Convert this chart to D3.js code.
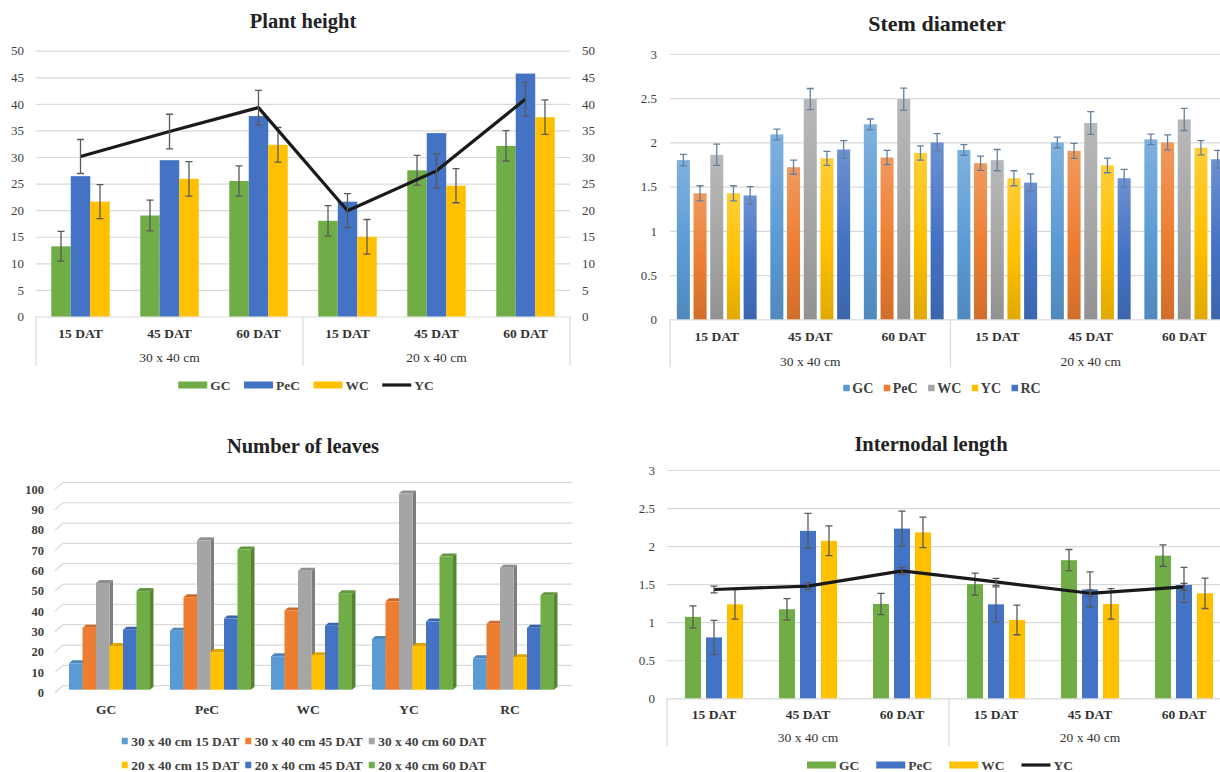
<!DOCTYPE html>
<html><head><meta charset="utf-8">
<script src="https://cdn.jsdelivr.net/npm/d3@7"></script>
<style>body{margin:0;background:#fff}svg{display:block}</style>
</head><body>
<svg id="c" width="1220" height="772"></svg>
<script>
// ---------- DATA ----------
const datLabels = ["15 DAT","45 DAT","60 DAT","15 DAT","45 DAT","60 DAT"];
const spacingLabels = ["30 x 40 cm","20 x 40 cm"];

// Plant height
const plantGC = [13.2, 19.0, 25.5, 18.0, 27.5, 32.1];
const plantGCErr = [2.8, 2.9, 2.85, 2.85, 2.8, 2.85];
const plantPeC = [26.4, 29.4, 37.7, 21.6, 34.5, 45.7];
const plantWC = [21.6, 25.9, 32.3, 15.0, 24.6, 37.5];
const plantWCErr = [3.2, 3.25, 3.25, 3.25, 3.2, 3.25];
const plantYC = [30.1, 34.8, 39.3, 19.9, 27.4, 40.9];
const plantYCErr = [3.2, 3.25, 3.25, 3.2, 3.2, 3.15];
const plantTicks = [0,5,10,15,20,25,30,35,40,45,50];

// Stem diameter
const stemGC = [1.80, 2.09, 2.205, 1.915, 2.00, 2.035];
const stemGCErr = [0.065, 0.06, 0.06, 0.06, 0.06, 0.06];
const stemPeC = [1.425, 1.72, 1.83, 1.765, 1.905, 2.00];
const stemPeCErr = [0.085, 0.08, 0.08, 0.08, 0.085, 0.085];
const stemWC = [1.86, 2.49, 2.49, 1.80, 2.22, 2.26];
const stemWCErr = [0.12, 0.12, 0.125, 0.12, 0.128, 0.125];
const stemYC = [1.425, 1.82, 1.88, 1.595, 1.74, 1.94];
const stemYCErr = [0.085, 0.08, 0.08, 0.085, 0.083, 0.08];
const stemRC = [1.40, 1.92, 2.00, 1.545, 1.595, 1.81];
const stemRCErr = [0.1, 0.1, 0.1, 0.1, 0.1, 0.1];
const unitTicks = [0,0.5,1,1.5,2,2.5,3];

// Number of leaves
const leafCats = ["GC","PeC","WC","YC","RC"];
const leafNames = ["30 x 40 cm 15 DAT","30 x 40 cm 45 DAT","30 x 40 cm 60 DAT","20 x 40 cm 15 DAT","20 x 40 cm 45 DAT","20 x 40 cm 60 DAT"];
const leaf3015 = [12.5, 28.5, 16, 24.5, 15];
const leaf3045 = [30, 45, 38.5, 43, 32];
const leaf3060 = [52, 73, 58, 96, 59.5];
const leaf2015 = [21, 18, 16.5, 21, 15.5];
const leaf2045 = [29, 34.5, 31, 33, 30];
const leaf2060 = [48, 68.5, 47, 65, 46];
const leafTicks = [0,10,20,30,40,50,60,70,80,90,100];

// Internodal length
const intGC = [1.07, 1.17, 1.24, 1.50, 1.815, 1.875];
const intGCErr = [0.145, 0.14, 0.14, 0.145, 0.14, 0.14];
const intPeC = [0.80, 2.20, 2.23, 1.235, 1.43, 1.49];
const intPeCErr = [0.225, 0.23, 0.23, 0.23, 0.23, 0.23];
const intWC = [1.235, 2.07, 2.18, 1.03, 1.24, 1.38];
const intWCErr = [0.195, 0.195, 0.2, 0.195, 0.2, 0.2];
const intYC = [1.43, 1.475, 1.675, 1.53, 1.38, 1.465];
const intYCErr = [0.045, 0.045, 0.045, 0.045, 0.045, 0.045];

// ---------- STYLE ----------
const FONT = "'Liberation Serif','Times New Roman',serif";
const GRID = "#d9d9d9";
const TXT = "#404040";
const C = {green:"#70AD47", blue:"#4472C4", gold:"#FFC000", lblue:"#5B9BD5", orange:"#ED7D31", gray:"#A5A5A5"};

const svg = d3.select("#c");
svg.append("rect").attr("width",1220).attr("height",772).attr("fill","#fff");
const defs = svg.append("defs");

function gradient(id, base){
  const c = d3.color(base);
  const gr = defs.append("linearGradient").attr("id",id).attr("x1",0).attr("y1",0).attr("x2",0).attr("y2",1);
  gr.append("stop").attr("offset","0%").attr("stop-color", d3.interpolateRgb(base,"#fff")(0.22));
  gr.append("stop").attr("offset","55%").attr("stop-color", base);
  gr.append("stop").attr("offset","100%").attr("stop-color", c.darker(0.35).formatHex());
  return `url(#${id})`;
}

function title(text, cx, cy, fs){
  svg.append("text").attr("x",cx).attr("y",cy).attr("dy","0.35em").attr("text-anchor","middle")
    .attr("font-family",FONT).attr("font-weight","bold").attr("font-size",fs).attr("fill","#222").text(text);
}

function errBars(g, xs, vals, errs, y, color, cap){
  const d = vals.map((v,i)=>({x:xs[i], lo:v-errs[i], hi:v+errs[i]}));
  const eg = g.append("g").attr("stroke",color).attr("stroke-width",1.3).attr("fill","none");
  eg.selectAll(null).data(d).join("path")
    .attr("d", e=>`M${e.x},${y(e.hi)}V${y(e.lo)}M${e.x-cap/2},${y(e.hi)}H${e.x+cap/2}M${e.x-cap/2},${y(e.lo)}H${e.x+cap/2}`);
}

function barPanel(o){
  const g = svg.append("g");
  const y = d3.scaleLinear().domain([0,o.yMax]).range([o.y0,o.yTop]);
  const x0 = d3.scaleBand().domain(d3.range(datLabels.length)).range([o.xL,o.xR]).paddingInner(o.pi).paddingOuter(o.pi/2);
  const x1 = d3.scaleBand().domain(o.bars.map(b=>b.name)).range([0,x0.bandwidth()]).paddingInner(o.p1);
  const ga = g.append("g").attr("transform",`translate(${o.xL},0)`)
    .call(d3.axisLeft(y).tickValues(o.ticks).tickSize(-(o.xR-o.xL)).tickPadding(o.tickPad).tickFormat(o.fmt));
  ga.select(".domain").remove();
  ga.selectAll(".tick line").attr("stroke",GRID).attr("stroke-width",1.2);
  ga.selectAll(".tick text").attr("font-family",FONT).attr("font-size",13).attr("fill",TXT);
  if(o.rightAxis){
    const gr = g.append("g").attr("transform",`translate(${o.xR},0)`)
      .call(d3.axisRight(y).tickValues(o.ticks).tickSize(0).tickPadding(12).tickFormat(o.fmt));
    gr.select(".domain").remove();
    gr.selectAll(".tick text").attr("font-family",FONT).attr("font-size",13).attr("fill",TXT);
  }
  const mid = (o.xL+o.xR)/2;
  g.selectAll(null).data([o.xL, mid, o.xR]).join("line")
    .attr("x1",d=>d).attr("x2",d=>d).attr("y1",o.y0).attr("y2",o.y0+o.catLine).attr("stroke",GRID).attr("stroke-width",1.2);
  g.selectAll(null).data(datLabels).join("text")
    .attr("x",(d,i)=>x0(i)+x0.bandwidth()/2).attr("y",o.y0+o.datOff).attr("dy","0.35em").attr("text-anchor","middle")
    .attr("font-family",FONT).attr("font-weight","bold").attr("font-size",13.5).attr("fill","#333").text(d=>d);
  g.selectAll(null).data(spacingLabels).join("text")
    .attr("x",(d,i)=> i===0 ? (o.xL+mid)/2 : (mid+o.xR)/2).attr("y",o.y0+o.grpOff).attr("dy","0.35em").attr("text-anchor","middle")
    .attr("font-family",FONT).attr("font-size",13.5).attr("fill","#333").text(d=>d);
  const centers = d3.range(datLabels.length).map(i=>x0(i)+x0.bandwidth()/2);
  o.bars.forEach(b=>{
    g.append("g").selectAll("rect").data(b.values).join("rect")
      .attr("x",(d,i)=>x0(i)+x1(b.name)).attr("width",x1.bandwidth())
      .attr("y",d=>y(d)).attr("height",d=>y(0)-y(d)).attr("fill",b.fill);
  });
  o.bars.forEach(b=>{
    if(b.err) errBars(g, b.values.map((d,i)=>x0(i)+x1(b.name)+x1.bandwidth()/2), b.values, b.err, y, o.errColor, o.cap);
  });
  if(o.line){
    g.append("path").datum(o.line.values).attr("fill","none").attr("stroke","#1a1a1a").attr("stroke-width",3.2)
      .attr("stroke-linejoin","round")
      .attr("d", d3.line().x((d,i)=>centers[i]).y(d=>y(d)));
    errBars(g, centers, o.line.values, o.line.err, y, o.errColor, o.cap);
  }
}

function legend(rows, o){
  const g = svg.append("g").attr("font-family",FONT).attr("font-size",o.fs).attr("font-weight","bold");
  let maxW = 0;
  rows.forEach((items, r)=>{
    let x = 0; const yy = o.y + r*(o.rowGap||0);
    items.forEach(it=>{
      if(it.type==="line") g.append("line").attr("x1",x).attr("x2",x+o.sw).attr("y1",yy).attr("y2",yy).attr("stroke",it.color).attr("stroke-width",3.2);
      else g.append("rect").attr("x",x).attr("y",yy-o.sh/2).attr("width",o.sw).attr("height",o.sh).attr("fill",it.color);
      x += o.sw + o.gap;
      const t = g.append("text").attr("x",x).attr("y",yy).attr("dy","0.35em").attr("fill",TXT).text(it.label);
      x += t.node().getComputedTextLength() + o.itemGap;
    });
    maxW = Math.max(maxW, x - o.itemGap);
  });
  g.attr("transform",`translate(${o.cx - maxW/2},0)`);
}

// ---------- PLANT HEIGHT ----------
title("Plant height", 303, 21, 20.5);
barPanel({
  xL:36, xR:570, y0:316.5, yTop:50.7, yMax:50, ticks:plantTicks, fmt:d3.format("d"), tickPad:12, rightAxis:true,
  pi:0.343, p1:0, catLine:49, datOff:16.5, grpOff:41, errColor:"#595959", cap:7,
  bars:[
    {name:"GC", values:plantGC, err:plantGCErr, fill:C.green},
    {name:"PeC", values:plantPeC, fill:C.blue},
    {name:"WC", values:plantWC, err:plantWCErr, fill:C.gold}
  ],
  line:{values:plantYC, err:plantYCErr}
});
legend([[{label:"GC",color:C.green},{label:"PeC",color:C.blue},{label:"WC",color:C.gold},{label:"YC",color:"#1a1a1a",type:"line"}]],
  {cx:306, y:385, fs:13.5, sw:29, sh:7, gap:3, itemGap:13.5});

// ---------- STEM DIAMETER ----------
title("Stem diameter", 937, 23, 22);
barPanel({
  xL:670, xR:1231, y0:319.3, yTop:54, yMax:3, ticks:unitTicks, fmt:d=>String(d), tickPad:13,
  pi:0.1465, p1:0.22, catLine:48, datOff:16.7, grpOff:41.5, errColor:"#64809f", cap:7,
  bars:[
    {name:"GC", values:stemGC, err:stemGCErr, fill:gradient("gGC",C.lblue)},
    {name:"PeC", values:stemPeC, err:stemPeCErr, fill:gradient("gPeC",C.orange)},
    {name:"WC", values:stemWC, err:stemWCErr, fill:gradient("gWC",C.gray)},
    {name:"YC", values:stemYC, err:stemYCErr, fill:gradient("gYC",C.gold)},
    {name:"RC", values:stemRC, err:stemRCErr, fill:gradient("gRC",C.blue)}
  ]
});
legend([[{label:"GC",color:C.lblue},{label:"PeC",color:C.orange},{label:"WC",color:C.gray},{label:"YC",color:C.gold},{label:"RC",color:C.blue}]],
  {cx:942, y:388, fs:14, sw:6.5, sh:6.5, gap:2.5, itemGap:10.5});

// ---------- NUMBER OF LEAVES (3D) ----------
title("Number of leaves", 303, 446, 20.5);
(function(){
  const g = svg.append("g");
  const y = d3.scaleLinear().domain([0,100]).range([692.7,489.4]);
  const WX = 8, WY = 7, xF = 55, xEnd = 572;
  g.selectAll(null).data(leafTicks).join("path")
    .attr("d", v=>`M${xF},${y(v)}L${xF+WX},${y(v)-WY}H${xEnd}`)
    .attr("fill","none").attr("stroke",GRID).attr("stroke-width",1.2);
  g.selectAll(null).data(leafTicks).join("text")
    .attr("x",44).attr("y",v=>y(v)).attr("dy","0.35em").attr("text-anchor","end")
    .attr("font-family",FONT).attr("font-weight","bold").attr("font-size",12.5).attr("fill",TXT).text(v=>v);
  const xc = d3.scaleBand().domain(leafCats).range([55.5,560.5]);
  const xs = d3.scaleBand().domain(leafNames).range([13.5,94.5]);
  const series = [leaf3015, leaf3045, leaf3060, leaf2015, leaf2045, leaf2060];
  const cols = [C.lblue, C.orange, C.gray, C.gold, C.blue, C.green];
  const BX = 3.5, BY = 3;
  const bars = [];
  leafCats.forEach((c,ci)=> series.forEach((s,si)=> bars.push({c, name:leafNames[si], v:s[ci], col:cols[si]})));
  const bw = xs.bandwidth();
  const bg = g.selectAll(null).data(bars).join("g");
  bg.each(function(b){
    const x = xc(b.c)+xs(b.name), top = y(b.v)-4, bot = y(0)-3;
    const sel = d3.select(this);
    sel.append("path").attr("d",`M${x+bw},${top}L${x+bw+BX},${top-BY}V${bot-BY}L${x+bw},${bot}Z`)
      .attr("fill", d3.color(b.col).darker(0.75).formatHex());
    sel.append("path").attr("d",`M${x},${top}L${x+BX},${top-BY}H${x+bw+BX}L${x+bw},${top}Z`)
      .attr("fill", d3.color(b.col).darker(0.4).formatHex());
    sel.append("rect").attr("x",x).attr("y",top).attr("width",bw).attr("height",bot-top).attr("fill",b.col);
  });
  g.selectAll(null).data(leafCats).join("text")
    .attr("x",c=>xc(c)+xc.bandwidth()/2).attr("y",709).attr("dy","0.35em").attr("text-anchor","middle")
    .attr("font-family",FONT).attr("font-weight","bold").attr("font-size",13.5).attr("fill","#333").text(c=>c);
  legend([
    leafNames.slice(0,3).map((n,i)=>({label:n,color:cols[i]})),
    leafNames.slice(3).map((n,i)=>({label:n,color:cols[i+3]}))
  ], {cx:304, y:741, rowGap:24, fs:13.4, sw:6, sh:6.5, gap:3.5, itemGap:6});
})();

// ---------- INTERNODAL LENGTH ----------
title("Internodal length", 931, 444, 20.5);
barPanel({
  xL:667, xR:1231, y0:698.3, yTop:470, yMax:3, ticks:unitTicks, fmt:d=>String(d), tickPad:12,
  pi:0.383, p1:0.238, catLine:48, datOff:16, grpOff:39, errColor:"#595959", cap:7,
  bars:[
    {name:"GC", values:intGC, err:intGCErr, fill:C.green},
    {name:"PeC", values:intPeC, err:intPeCErr, fill:C.blue},
    {name:"WC", values:intWC, err:intWCErr, fill:C.gold}
  ],
  line:{values:intYC, err:intYCErr}
});
legend([[{label:"GC",color:C.green},{label:"PeC",color:C.blue},{label:"WC",color:C.gold},{label:"YC",color:"#1a1a1a",type:"line"}]],
  {cx:940, y:765, fs:13.5, sw:29, sh:7, gap:3, itemGap:17});
</script>
</body></html>
